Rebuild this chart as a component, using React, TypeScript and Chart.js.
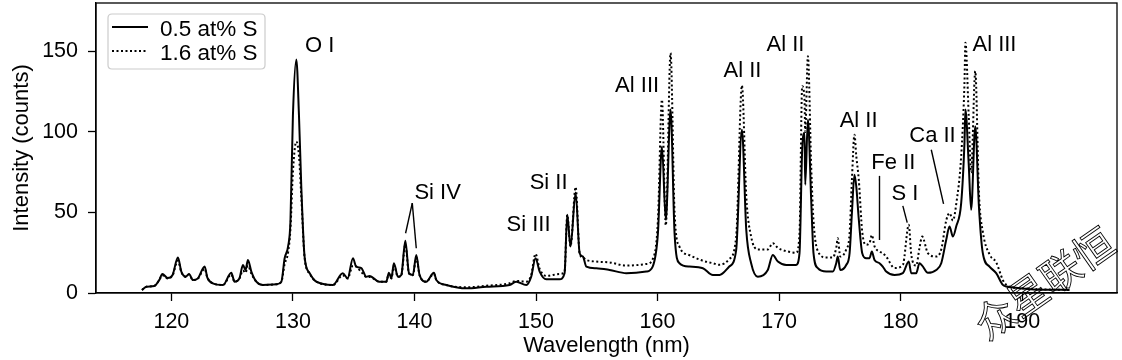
import React, { useEffect, useRef } from "react";
import { Chart, registerables } from "chart.js";

Chart.register(...registerables);

// Wavelength grid (nm)
const wavelengths = [
  117.58, 117.94, 118.6, 119.0, 119.26, 119.7, 120.1, 120.54, 120.82, 121.18,
  121.45, 121.78, 122.19, 122.74, 122.96, 123.42, 124.25, 124.93, 125.2, 125.6,
  125.89, 126.1, 126.3, 126.58, 126.99, 127.53, 128.64, 129.05, 129.32, 129.6,
  129.8, 130.0, 130.28, 130.5, 130.69, 130.96, 131.38, 131.93, 133.3, 134.1,
  134.5, 134.94, 135.2, 135.63, 136.04, 136.3, 137.1, 137.68, 137.9, 138.1,
  138.31, 138.64, 138.92, 139.25, 139.55, 139.87, 140.15, 140.42, 140.97, 141.6,
  141.8, 142.62, 144.27, 145.91, 147.83, 148.38, 149.2, 149.6, 149.96, 150.3,
  150.85, 151.94, 152.35, 152.57, 152.84, 153.26, 153.59, 153.86, 154.14, 154.96,
  156.05, 157.43, 159.07, 159.6, 160.03, 160.36, 160.68, 161.07, 161.4, 161.8,
  162.62, 163.73, 164.55, 165.1, 165.9, 166.47, 166.94, 167.3, 167.7, 168.25,
  169.07, 169.48, 169.9, 170.59, 171.4, 171.68, 171.9, 172.09, 172.15, 172.37,
  172.64, 172.83, 173.19, 173.88, 174.42, 174.7, 174.83, 175.03, 175.52, 175.8,
  175.99, 176.2, 176.35, 176.56, 176.84, 177.17, 177.44, 177.63, 177.85, 178.26,
  178.53, 178.81, 179.5, 180.18, 180.67, 180.87, 181.28, 181.55, 181.77, 182.24,
  182.93, 183.34, 183.75, 184.02, 184.3, 184.57, 184.98, 185.25, 185.33, 185.6,
  185.8, 186.14, 186.44, 186.76, 187.31, 187.86, 188.41, 188.69, 189.23, 190.5,
  191.5, 193.0, 193.9,
];

// 0.5 at% S (solid)
const intensityLowS = [
  1.9, 3.9, 4.4, 8, 11.8, 9.3, 11.2, 22, 13.3, 10.2,
  11.8, 8, 9.1, 16.4, 9.5, 6, 5, 12.6, 7, 9.1,
  17.4, 14.3, 20.5, 13.3, 7, 5, 5.4, 7, 21.6, 28.8,
  45, 110, 145, 110, 66, 22.6, 12.3, 7, 5, 12.3,
  9.1, 21.6, 16.4, 15.4, 10.1, 10.6, 7, 7, 12.6, 9.1,
  18.5, 10.1, 11.2, 32.4, 12.3, 11.2, 23.6, 11.2, 7, 12.6,
  8.1, 5, 2.9, 3.9, 5, 7, 5, 10, 21.6, 13.3,
  8.5, 8.5, 12.3, 48.5, 28.8, 62.4, 24.7, 22.6, 16.4, 15.4,
  14.3, 12.3, 13.3, 16.4, 37, 91, 45.4, 113.9, 37, 18.5,
  16.4, 15.4, 11.2, 11.2, 16.4, 26.8, 101.4, 39, 18.5, 10.1,
  14.3, 23.6, 19.5, 17.4, 17.4, 24.7, 89, 99.4, 67.2, 107.7,
  57.9, 24.7, 15.4, 13.3, 13.3, 18.5, 22.6, 14.3, 17.4, 24.7,
  49.6, 73.4, 66.1, 45.4, 24.7, 21.6, 21.6, 25.7, 20.5, 18.5,
  16.4, 13.3, 11.2, 12.3, 19.5, 12.3, 12.3, 18.5, 17, 12.5,
  14.3, 18.5, 33, 41.3, 35, 41.3, 55.8, 93.2, 113.9, 80,
  51.6, 103.5, 53.7, 24.7, 16.4, 12.3, 5, 4, 3.5, 2.5,
  2, 2, 1.9,
];

// 1.6 at% S (dotted)
const intensityHighS = [
  1.9, 3.9, 4.4, 8, 11, 9, 11, 20, 13, 10,
  11.5, 8, 9, 15, 9.5, 6, 5, 11.5, 7, 9,
  14, 12.5, 17, 12, 7, 5, 5.4, 7, 18, 25,
  40, 75, 94, 85, 60, 22, 12, 7, 5, 11,
  9, 17, 16.5, 13, 10, 10, 7, 7, 12, 9,
  17, 10, 11, 30, 12, 11, 22, 11, 7, 12,
  8, 5, 3.5, 4.5, 6, 7.5, 7, 11, 24.3, 15,
  10.6, 11.8, 13, 48.5, 29, 65.8, 24.7, 22, 20.5, 19.5,
  19, 17, 18, 21, 45, 120, 42, 149, 50, 28.8,
  23.5, 20, 18.5, 17.5, 21, 35, 128.8, 60, 35, 27,
  27, 30.9, 28, 26, 25, 37, 128.4, 120, 100, 147,
  78.6, 45, 26, 22, 22, 28, 34, 22.6, 27, 37,
  70, 98.3, 85, 70, 38, 30, 31, 36, 29, 25.7,
  24.7, 22.6, 15.5, 17.4, 42.3, 24, 17, 28, 35, 24.7,
  22.6, 27, 45, 49.6, 45, 55, 85, 130, 155.4, 110,
  75, 137.7, 62, 38, 24, 19, 8, 5, 3.5, 2.8,
  2.3, 2, 1.9,
];

const seriesLabels = ["0.5 at% S", "1.6 at% S"];
const xTicks = [120, 130, 140, 150, 160, 170, 180, 190];
const yTicks = [0, 50, 100, 150];
const xTitle = "Wavelength (nm)";
const yTitle = "Intensity (counts)";

// Peak labels (text, wavelength, intensity at text centre)
const peakTexts = ["O I", "Si IV", "Si III", "Si II", "Al III", "Al II", "Al II", "Al II", "Ca II", "Fe II", "S I", "Al III"];
const peakTextX = [132.2, 141.91, 149.39, 151.04, 158.32, 166.99, 170.52, 176.54, 182.62, 179.4, 180.36, 187.72];
const peakTextY = [154.2, 63.4, 43.2, 69.6, 129.9, 139.2, 155.4, 108.1, 98.8, 81.6, 62.5, 155.4];

// Leader lines: [x1, y1, x2, y2] in data units
const leaderLines = [
  [139.82, 55.8, 139.27, 37.1],
  [139.82, 55.8, 140.15, 27.8],
  [182.52, 88.9, 183.53, 55.3],
  [178.26, 72.7, 178.26, 32.9],
  [180.18, 54.1, 180.54, 43.7],
];

const watermark = "众星联恒";

const FONT = "'Liberation Sans', Arial, Helvetica, sans-serif";

export default function App() {
  const canvasRef = useRef<HTMLCanvasElement | null>(null);

  useEffect(() => {
    const canvas = canvasRef.current;
    if (!canvas) return;

    const overlay = {
      id: "overlay",
      afterDatasetsDraw(chart: any) {
        const { ctx, chartArea } = chart;
        const xs = chart.scales.x;
        const ys = chart.scales.y;
        ctx.save();
        // frame
        ctx.strokeStyle = "#000";
        ctx.lineWidth = 1.3;
        ctx.strokeRect(chartArea.left, chartArea.top, chartArea.right - chartArea.left, chartArea.bottom - chartArea.top);

        // leader lines
        ctx.lineWidth = 1.4;
        leaderLines.forEach((l) => {
          ctx.beginPath();
          ctx.moveTo(xs.getPixelForValue(l[0]), ys.getPixelForValue(l[1]));
          ctx.lineTo(xs.getPixelForValue(l[2]), ys.getPixelForValue(l[3]));
          ctx.stroke();
        });

        // peak labels
        const fs = 22;
        ctx.font = `${fs}px ${FONT}`;
        ctx.fillStyle = "#000";
        ctx.textAlign = "center";
        ctx.textBaseline = "alphabetic";
        peakTexts.forEach((t, i) => {
          const px = xs.getPixelForValue(peakTextX[i]);
          const py = ys.getPixelForValue(peakTextY[i]);
          ctx.fillText(t, px, py + fs * 0.358);
        });

        // legend
        const lx = chartArea.left + 12;
        const ly = chartArea.top + 11;
        const lw = 157;
        const lh = 55;
        const r = 4;
        ctx.beginPath();
        ctx.moveTo(lx + r, ly);
        ctx.lineTo(lx + lw - r, ly);
        ctx.quadraticCurveTo(lx + lw, ly, lx + lw, ly + r);
        ctx.lineTo(lx + lw, ly + lh - r);
        ctx.quadraticCurveTo(lx + lw, ly + lh, lx + lw - r, ly + lh);
        ctx.lineTo(lx + r, ly + lh);
        ctx.quadraticCurveTo(lx, ly + lh, lx, ly + lh - r);
        ctx.lineTo(lx, ly + r);
        ctx.quadraticCurveTo(lx, ly, lx + r, ly);
        ctx.closePath();
        ctx.fillStyle = "rgba(255,255,255,0.8)";
        ctx.fill();
        ctx.strokeStyle = "#cccccc";
        ctx.lineWidth = 1.2;
        ctx.stroke();

        const rows = [ly + 13, ly + 37];
        ctx.strokeStyle = "#000";
        seriesLabels.forEach((s, i) => {
          ctx.save();
          ctx.lineWidth = 2;
          ctx.setLineDash(i === 0 ? [] : [2, 2.5]);
          ctx.beginPath();
          ctx.moveTo(lx + 4, rows[i]);
          ctx.lineTo(lx + 40, rows[i]);
          ctx.stroke();
          ctx.restore();
          ctx.font = `22.5px ${FONT}`;
          ctx.fillStyle = "#000";
          ctx.textAlign = "left";
          ctx.textBaseline = "alphabetic";
          ctx.fillText(s, lx + 52, rows[i] + 8.5);
        });

        // watermark
        ctx.save();
        ctx.translate(1044, 283);
        ctx.rotate((-35 * Math.PI) / 180);
        ctx.font = `40px 'Noto Sans CJK SC', sans-serif`;
        ctx.strokeStyle = "#000";
        ctx.lineWidth = 0.9;
        ctx.textAlign = "center";
        ctx.textBaseline = "middle";
        ctx.strokeText(watermark, 0, 0);
        ctx.restore();

        ctx.restore();
      },
    };

    const chart = new Chart(canvas, {
      type: "line",
      data: {
        datasets: [
          {
            label: seriesLabels[0],
            data: wavelengths.map((w, i) => ({ x: w, y: intensityLowS[i] })),
            borderColor: "#000",
            borderWidth: 2,
            pointRadius: 0,
            cubicInterpolationMode: "monotone",
            fill: false,
          },
          {
            label: seriesLabels[1],
            data: wavelengths.map((w, i) => ({ x: w, y: intensityHighS[i] })),
            borderColor: "#000",
            borderWidth: 2,
            borderDash: [2, 2.5],
            pointRadius: 0,
            cubicInterpolationMode: "monotone",
            fill: false,
          },
        ],
      },
      options: {
        animation: false,
        responsive: false,
        maintainAspectRatio: false,
        layout: { padding: { left: 0, right: 5, top: 3, bottom: 0 } },
        plugins: {
          legend: { display: false },
          tooltip: { enabled: false },
        },
        scales: {
          x: {
            type: "linear",
            min: 113.8,
            max: 197.8,
            afterFit: (s: any) => {
              s.height = 67;
              s.paddingLeft = 0;
              s.paddingRight = 0;
            },
            afterBuildTicks: (s: any) => {
              s.ticks = xTicks.map((v) => ({ value: v }));
            },
            grid: {
              display: true,
              drawOnChartArea: false,
              drawTicks: true,
              tickLength: 8,
              tickColor: "#000",
              tickWidth: 1.3,
            },
            border: { display: true, color: "#000", width: 1.3 },
            ticks: {
              color: "#000",
              font: { family: FONT, size: 21.5 },
              padding: 8,
              maxRotation: 0,
              autoSkip: false,
            },
            title: {
              display: true,
              text: xTitle,
              color: "#000",
              font: { family: FONT, size: 22 },
              padding: { top: 0, bottom: 1 },
            },
          },
          y: {
            type: "linear",
            min: 0,
            max: 180,
            afterFit: (s: any) => {
              s.width = 96;
              s.paddingTop = 0;
              s.paddingBottom = 0;
            },
            afterBuildTicks: (s: any) => {
              s.ticks = yTicks.map((v) => ({ value: v }));
            },
            grid: {
              display: true,
              drawOnChartArea: false,
              drawTicks: true,
              tickLength: 8,
              tickColor: "#000",
              tickWidth: 1.3,
            },
            border: { display: true, color: "#000", width: 1.3 },
            ticks: {
              color: "#000",
              font: { family: FONT, size: 21.5 },
              padding: 10,
              autoSkip: false,
            },
            title: {
              display: true,
              text: yTitle,
              color: "#000",
              font: { family: FONT, size: 22 },
              padding: { top: 9, bottom: 0 },
            },
          },
        },
      },
      plugins: [overlay],
    });

    return () => {
      chart.destroy();
    };
  }, []);

  return (
    <div style={{ position: "fixed", left: 0, top: 0, width: 1122, height: 360, background: "#fff" }}>
      <canvas ref={canvasRef} width={1122} height={360} style={{ display: "block", width: 1122, height: 360 }} />
    </div>
  );
}
